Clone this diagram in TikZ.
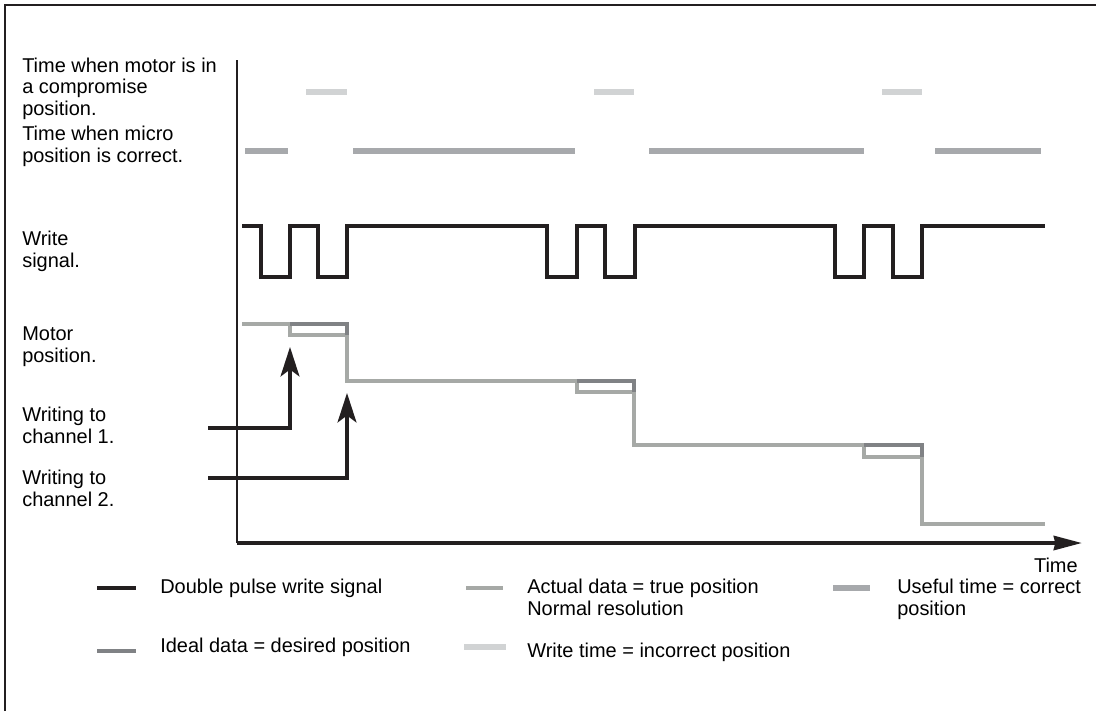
\documentclass[tikz,border=0pt]{standalone}
\usepackage{fontspec}
\setmainfont{Liberation Sans}
\usetikzlibrary{arrows.meta}

\definecolor{sigblack}{HTML}{231F20}
\definecolor{actualgray}{HTML}{A6A9A6}
\definecolor{idealgray}{HTML}{808285}
\definecolor{usefulgray}{HTML}{A7A9AC}
\definecolor{writegray}{HTML}{D1D3D4}

\begin{document}
\begin{tikzpicture}[x=0.025cm, y=-0.025cm,
    caption/.style ={anchor=base west, align=left, inner sep=0pt,
                     font=\fontsize{14.2}{15}\selectfont},
    legendtext/.style ={caption, font=\fontsize{14.2}{15.6}\selectfont},
    signal/.style  ={line width=2.8pt, sigblack},
    actual/.style  ={line width=2.4pt, actualgray},
    ideal/.style   ={line width=2.4pt, idealgray},
    useful/.style  ={line width=4.4pt, usefulgray},
    wrtime/.style  ={line width=4.8pt, writegray},
    pointer/.style ={line width=2.2pt, sigblack, -{Stealth[length=21pt, width=13.5pt, inset=5pt]}}]
   \useasboundingbox (0,0) rectangle (1096,711);
   % frame
   \draw[line width=1.4pt, sigblack] (5,711) -- (5,5) -- (1096,5);

   % axes
   \coordinate (ytop)   at (237,60);
   \coordinate (origin) at (237,543);
   \coordinate (xend)   at (1082,543);
   \draw[line width=1.4pt, sigblack] (ytop) to (origin);
   \draw[line width=2.8pt, sigblack, -{Stealth[length=20pt, width=10pt, inset=1pt]}] (origin) to (xend);
   \node[caption, anchor=base east] (time) at (1078,572) {Time};

   % row labels (anchored at the baseline of the last line)
   \node[caption] (comp)  at (22,115) {Time when motor is in\\a compromise\\position.};
   \node[caption] (micro) at (22,162) {Time when micro\\position is correct.};
   \node[caption] (write) at (22,267) {Write\\signal.};
   \node[caption] (motor) at (22,362) {Motor\\position.};
   \node[caption] (chone) at (22,443) {Writing to\\channel 1.};
   \node[caption] (chtwo) at (22,506) {Writing to\\channel 2.};

   % write time = incorrect position
   \draw[wrtime] (306,92) to (347,92);
   \draw[wrtime] (594,92) to (634,92);
   \draw[wrtime] (882,92) to (922,92);

   % useful time = correct position
   \draw[useful] (245,151) to (288,151);
   \draw[useful] (353,151) to (575,151);
   \draw[useful] (649,151) to (864,151);
   \draw[useful] (935,151) to (1041,151);

   % double pulse write signal
   \draw[signal] (242,226) -| (261,277) -| (290,226) -| (318,277) -| (347,226)
                 -| (547,277) -| (577,226) -| (605,277) -| (635,226)
                 -| (835,277) -| (864,226) -| (893,277) -| (922,226) -- (1045,226);

   % motor position
   \draw[actual] (242,324) -- (290,324) -- (290,335) -- (347,335) -- (347,381)
                 -- (577,381) -- (577,392) -- (634,392) -- (634,445)
                 -- (864,445) -- (864,457) -- (922,457) -- (922,524) -- (1045,524);
   \draw[ideal] (290,324) -- (347,324) -- (347,335);
   \draw[ideal] (577,381) -- (634,381) -- (634,392);
   \draw[ideal] (864,445) -- (922,445) -- (922,457);

   % pointers
   \coordinate (onestart) at (208,428);
   \coordinate (onetip)   at (290,347);
   \coordinate (twostart) at (208,478);
   \coordinate (twotip)   at (347,393);
   \draw[pointer] (onestart) -| (onetip);
   \draw[pointer] (twostart) -| (twotip);

   % legend
   \draw[signal] (97,588) to (136,588);
   \node[legendtext] (lgsig) at (160,593) {Double pulse write signal};
   \draw[actual] (466,588) to (503,588);
   \node[legendtext] (lgact) at (527,615) {Actual data = true position\\Normal resolution};
   \draw[useful] (833,588) to (870,588);
   \node[legendtext] (lguse) at (897,615) {Useful time = correct\\position};
   \draw[ideal] (97,651) to (136,651);
   \node[legendtext] (lgide) at (160,652) {Ideal data = desired position};
   \draw[wrtime] (464,647) to (506,647);
   \node[legendtext] (lgwrt) at (527,657) {Write time = incorrect position};
 \end{tikzpicture}
\end{document}
